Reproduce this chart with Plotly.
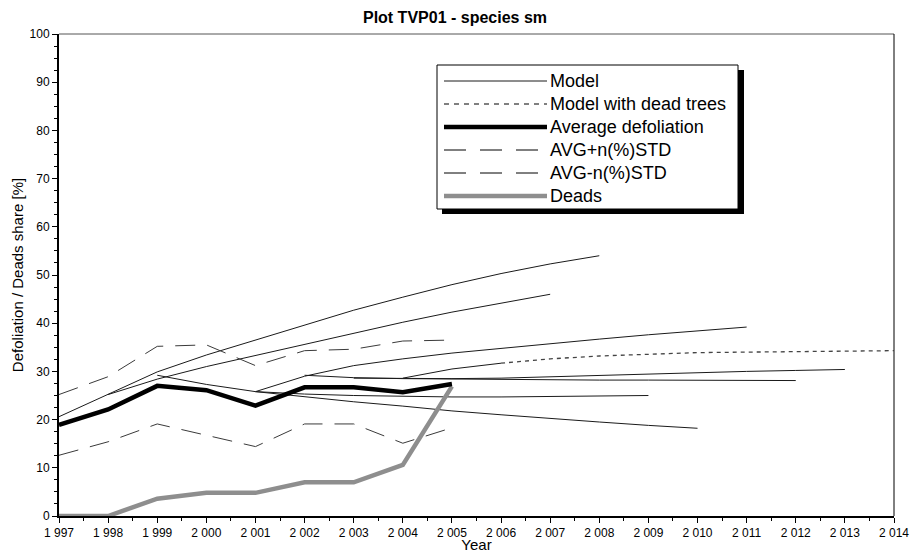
import plotly.graph_objects as go

# ---------------- data ----------------
years_obs = [1997, 1998, 1999, 2000, 2001, 2002, 2003, 2004, 2005]
avg_defol = [18.9, 22.1, 27.0, 26.1, 22.9, 26.7, 26.7, 25.7, 27.4]
avg_plus = [25.2, 28.9, 35.2, 35.5, 31.2, 34.3, 34.6, 36.3, 36.5]
avg_minus = [12.6, 15.4, 19.1, 16.8, 14.4, 19.1, 19.1, 15.1, 18.3]
deads = [0.0, 0.0, 3.6, 4.8, 4.8, 7.0, 7.0, 10.6, 26.9]

# model runs: (first year, values)
model_a_start = 1997
model_a = [20.6, 25.2, 29.9, 33.4, 36.5, 39.6, 42.7, 45.4, 48.0, 50.3, 52.3, 54.0]
model_b_start = 1998
model_b = [25.2, 28.4, 31.0, 33.3, 35.5, 37.9, 40.2, 42.3, 44.2, 46.0]
model_c_start = 1999
model_c = [29.2, 27.3, 25.8, 24.7, 23.7, 22.8, 21.8, 21.0, 20.2, 19.5, 18.8, 18.2]
model_d_start = 2001
model_d = [25.8, 25.3, 25.0, 24.8, 24.7, 24.7, 24.8, 24.9, 25.0]
model_e_start = 2001
model_e = [25.8, 29.0, 31.2, 32.6, 33.8, 34.8, 35.8, 36.7, 37.6, 38.4, 39.2]
model_f_start = 2002
model_f = [29.2, 28.7, 28.5, 28.4, 28.3, 28.3, 28.2, 28.2, 28.2, 28.1, 28.1]
model_g_start = 2003
model_g = [28.6, 28.5, 28.5, 28.6, 28.9, 29.2, 29.5, 29.8, 30.0, 30.2, 30.4]
model_h_start = 2004
model_h = [28.6, 30.5, 31.7]
dead_model_start = 2006
dead_model = [31.7, 32.6, 33.2, 33.6, 33.9, 34.0, 34.1, 34.2, 34.3]

x_tick_vals = list(range(1997, 2015))
x_tick_text = ["1 997", "1 998", "1 999", "2 000", "2 001", "2 002", "2 003",
               "2 004", "2 005", "2 006", "2 007", "2 008", "2 009", "2 010",
               "2 011", "2 012", "2 013", "2 014"]
y_tick_vals = [0, 10, 20, 30, 40, 50, 60, 70, 80, 90, 100]

legend_labels = ["Model", "Model with dead trees", "Average defoliation",
                 "AVG+n(%)STD", "AVG-n(%)STD", "Deads"]

title_text = "Plot TVP01 - species sm"
x_title = "Year"
y_title = "Defoliation / Deads share [%]"

# ---------------- styles ----------------
FONT = "Liberation Sans, Arial, sans-serif"
model_style = dict(color="#1a1a1a", width=1)
dead_model_style = dict(color="#444444", width=1.3, dash="4px,4px")
avg_style = dict(color="#000000", width=4.5)
std_style = dict(color="#3a3a3a", width=1, dash="20px,12px")
deads_style = dict(color="#8e8e8e", width=4.5)


def yrs(start, vals):
    return list(range(start, start + len(vals)))


fig = go.Figure()

models = [(model_a_start, model_a), (model_b_start, model_b), (model_c_start, model_c),
          (model_d_start, model_d), (model_e_start, model_e), (model_f_start, model_f),
          (model_g_start, model_g)]

fig.add_trace(go.Scatter(x=yrs(dead_model_start, dead_model), y=dead_model,
                         mode="lines", line=dead_model_style, name=legend_labels[1]))
for s, v in models:
    fig.add_trace(go.Scatter(x=yrs(s, v), y=v, mode="lines", line=model_style,
                             name=legend_labels[0]))
fig.add_trace(go.Scatter(x=yrs(model_h_start, model_h), y=model_h, mode="lines",
                         line=model_style, name=legend_labels[0]))
fig.add_trace(go.Scatter(x=years_obs, y=avg_plus, mode="lines", line=std_style,
                         name=legend_labels[3]))
fig.add_trace(go.Scatter(x=years_obs, y=avg_minus, mode="lines", line=std_style,
                         name=legend_labels[4]))
fig.add_trace(go.Scatter(x=years_obs, y=deads, mode="lines", line=deads_style,
                         name=legend_labels[5]))
fig.add_trace(go.Scatter(x=years_obs, y=avg_defol, mode="lines", line=avg_style,
                         name=legend_labels[2]))

# ---------------- custom legend (box with drop shadow) ----------------
W, H = 910, 553
L, R, T, B = 59, 16, 34, 37
PW, PH = W - L - R, H - T - B


def px(x):
    return (x - L) / PW


def py(y):
    return (H - B - y) / PH


shapes = []
# plot frame (thin top/right border)
shapes.append(dict(type="line", xref="paper", yref="paper", x0=0, x1=1, y0=1, y1=1,
                   line=dict(color="#555555", width=1), layer="below"))
shapes.append(dict(type="line", xref="paper", yref="paper", x0=1, x1=1, y0=0, y1=1,
                   line=dict(color="#000000", width=1), layer="below"))
# legend shadow + box
shapes.append(dict(type="rect", xref="paper", yref="paper",
                   x0=px(442), x1=px(744), y0=py(214), y1=py(70),
                   fillcolor="#000000", line=dict(width=0), layer="above"))
shapes.append(dict(type="rect", xref="paper", yref="paper",
                   x0=px(437), x1=px(738), y0=py(209), y1=py(65),
                   fillcolor="#ffffff", line=dict(color="#000000", width=1), layer="above"))

row_y = [81, 104, 127, 150, 173, 196]
row_styles = [model_style, dict(color="#000000", width=1, dash="5px,5px"), avg_style,
              dict(color="#000000", width=1, dash="22px,14px"),
              dict(color="#000000", width=1, dash="22px,14px"), deads_style]
annotations = []
for lbl, yy, st in zip(legend_labels, row_y, row_styles):
    shapes.append(dict(type="line", xref="paper", yref="paper",
                       x0=px(444), x1=px(547), y0=py(yy), y1=py(yy),
                       line=st, layer="above"))
    annotations.append(dict(xref="paper", yref="paper", x=px(548), y=py(yy),
                            xanchor="left", yanchor="middle", showarrow=False,
                            text=lbl, font=dict(family=FONT, size=18, color="#000000")))

fig.update_layout(
    width=W, height=H,
    margin=dict(l=L, r=R, t=T, b=B, autoexpand=False),
    paper_bgcolor="white", plot_bgcolor="white",
    showlegend=False,
    font=dict(family=FONT, color="#000000"),
    title=dict(text="<b>" + title_text + "</b>", x=0.5, xanchor="center",
               y=1 - 17 / H, yanchor="middle", yref="container",
               font=dict(family=FONT, size=16, color="#000000")),
    shapes=shapes,
    annotations=annotations,
    xaxis=dict(range=[1997, 2014], tickvals=x_tick_vals, ticktext=x_tick_text,
               showgrid=False, zeroline=False, showline=True, linecolor="#000000",
               linewidth=2, ticks="outside", ticklen=5, tickwidth=1, tickcolor="#000000",
               tickfont=dict(family=FONT, size=12, color="#000000"),
               minor=dict(dtick=0.5, ticks="outside", ticklen=3, tickcolor="#000000",
                          showgrid=False),
               title=dict(text=x_title, standoff=1,
                          font=dict(family=FONT, size=15, color="#000000"))),
    yaxis=dict(range=[0, 100], tickvals=y_tick_vals,
               showgrid=False, zeroline=False, showline=True, linecolor="#000000",
               linewidth=2, ticks="outside", ticklen=5, tickwidth=1, tickcolor="#000000",
               tickfont=dict(family=FONT, size=12, color="#000000"),
               minor=dict(dtick=2.5, ticks="outside", ticklen=3, tickcolor="#000000",
                          showgrid=False),
               title=dict(text=y_title, standoff=2,
                          font=dict(family=FONT, size=15, color="#000000"))),
)

fig.write_html("out.html")
